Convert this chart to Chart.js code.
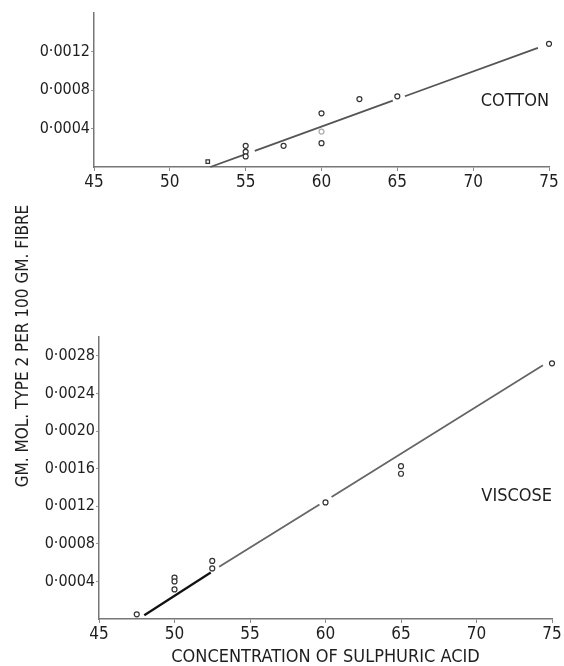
<!DOCTYPE html>
<html>
<head>
<meta charset="utf-8">
<script src="https://cdn.jsdelivr.net/npm/chart.js@4/dist/chart.umd.min.js"></script>
<style>
  html, body { margin: 0; padding: 0; background: #fff; }
  #wrap { position: relative; width: 564px; height: 666px; }
  #wrap canvas { position: absolute; left: 0; top: 0; }
</style>
</head>
<body>
<div id="wrap">
  <canvas id="viscoseChart" width="564" height="666"></canvas>
  <canvas id="cottonChart" width="564" height="190"></canvas>
</div>
<script>
'use strict';
// =============== data ===============
const acidTicks = [45, 50, 55, 60, 65, 70, 75];

const cottonX = [52.5, 55, 55, 55, 57.5, 60, 60, 60, 62.5, 65, 75];
const cottonY = [0.000055, 0.00022, 0.000158, 0.00011, 0.00022, 0.000558, 0.000368, 0.000248, 0.000706, 0.000734, 0.00128];
// fitted line, nulls are the breaks round the circles
const cottonFitX = [52.67, 55.0, 55.3, 55.6, 64.7, 65.1, 65.5, 74.27];
const cottonFitY = [0, 0.000133, null, 0.000168, 0.000689, null, 0.000735, 0.001237];

const viscoseX = [47.5, 50, 50, 50, 52.5, 52.5, 60, 65, 65, 75];
const viscoseY = [0.00005, 0.00044, 0.0004, 0.000315, 0.000618, 0.000538, 0.00124, 0.001626, 0.001545, 0.00272];
const viscoseLowFitX = [48.0, 52.4];
const viscoseLowFitY = [0.00004, 0.000495];
const viscoseHighFitX = [52.96, 59.6, 60.0, 60.4, 74.4];
const viscoseHighFitY = [0.000555, 0.001219, null, 0.001299, 0.0027];

const cottonYTicks = [0.0004, 0.0008, 0.0012];
const viscoseYTicks = [0.0004, 0.0008, 0.0012, 0.0016, 0.0020, 0.0024, 0.0028];

// =============== helpers ===============
const FONT = "'DejaVu Sans Condensed', 'DejaVu Sans', sans-serif";
const INK = '#1e1e1e';

const toPoints = (xs, ys) => xs.map((x, i) => ({x: x, y: ys[i]}));
const fmt = (v) => v.toFixed(4).replace('.', '\u00b7');

function xScale(height) {
    return {
        type: 'linear', min: 45, max: 75,
        afterBuildTicks: (s) => { s.ticks = acidTicks.map(v => ({value: v})); },
        afterFit: (s) => { s.height = height; },
        grid: {drawOnChartArea: false, tickLength: 4, color: '#888'},
        border: {color: '#777', width: 1.5},
        ticks: {color: INK, padding: 1, font: {family: FONT, size: 17}}
    };
}

function yScale(max, ticks, width) {
    return {
        type: 'linear', min: 0, max: max,
        afterBuildTicks: (s) => { s.ticks = ticks.map(v => ({value: v})); },
        afterFit: (s) => { s.width = width; },
        grid: {drawOnChartArea: false, tickLength: 3, color: '#999'},
        border: {color: '#777', width: 1.5},
        ticks: {color: INK, padding: 1, font: {family: FONT, size: 16}, callback: (v) => fmt(v)}
    };
}

function pointSet(data) {
    return {
        type: 'scatter', data: data, clip: false,
        pointRadius: 2.5, pointBorderWidth: 1.2,
        pointBackgroundColor: '#fff', pointBorderColor: '#333',
        pointStyle: 'circle', order: 0
    };
}

function lineSet(data, color, width) {
    return {
        type: 'line', data: data, borderColor: color, borderWidth: width,
        pointRadius: 0, spanGaps: false, tension: 0, order: 1, clip: false
    };
}

// draw a text label at a data position
function labelPlugin(id, text, xv, yv, size) {
    return {
        id: id,
        afterDraw(chart) {
            const c = chart.ctx;
            c.save();
            c.font = size + 'px ' + FONT;
            c.fillStyle = INK;
            c.textAlign = 'right';
            c.textBaseline = 'middle';
            c.fillText(text, chart.scales.x.getPixelForValue(xv), chart.scales.y.getPixelForValue(yv));
            c.restore();
        }
    };
}

const yTitlePlugin = {
    id: 'yTitle',
    afterDraw(chart) {
        const c = chart.ctx;
        c.save();
        c.translate(24, 346);
        c.rotate(-Math.PI / 2);
        c.font = '17px ' + FONT;
        c.fillStyle = INK;
        c.textAlign = 'center';
        c.textBaseline = 'middle';
        c.fillText('GM. MOL. TYPE 2 PER 100 GM. FIBRE', 0, 0);
        c.restore();
    }
};

// =============== cotton ===============
const cottonPoints = pointSet(toPoints(cottonX, cottonY));
cottonPoints.pointStyle = (ctx) => ctx.dataIndex === 0 ? 'rect' : 'circle';
cottonPoints.pointBorderColor = (ctx) => ctx.dataIndex === 6 ? '#aaa' : '#333';

new Chart(document.getElementById('cottonChart'), {
    data: {
        datasets: [
            cottonPoints,
            lineSet(toPoints(cottonFitX, cottonFitY), '#555', 1.8)
        ]
    },
    options: {
        responsive: false, animation: false,
        layout: {padding: {top: 13, right: 15, left: 0, bottom: 0}},
        plugins: {legend: {display: false}, tooltip: {enabled: false}},
        scales: {x: xScale(23), y: yScale(0.0016, cottonYTicks, 94)}
    },
    plugins: [labelPlugin('cottonLabel', 'COTTON', 75, 0.00068, 18)]
});

// =============== viscose ===============
const xv = xScale(47);
xv.title = {display: true, text: 'CONCENTRATION OF SULPHURIC ACID', color: INK,
    padding: 0, font: {family: FONT, size: 18, lineHeight: 1}};

new Chart(document.getElementById('viscoseChart'), {
    data: {
        datasets: [
            pointSet(toPoints(viscoseX, viscoseY)),
            lineSet(toPoints(viscoseLowFitX, viscoseLowFitY), '#111', 2.2),
            lineSet(toPoints(viscoseHighFitX, viscoseHighFitY), '#666', 1.8)
        ]
    },
    options: {
        responsive: false, animation: false,
        layout: {padding: {top: 337, right: 12, left: 0, bottom: 0}},
        plugins: {legend: {display: false}, tooltip: {enabled: false}},
        scales: {x: xv, y: yScale(0.003, viscoseYTicks, 99)}
    },
    plugins: [labelPlugin('viscoseLabel', 'VISCOSE', 75, 0.0013, 18), yTitlePlugin]
});
</script>
</body>
</html>
